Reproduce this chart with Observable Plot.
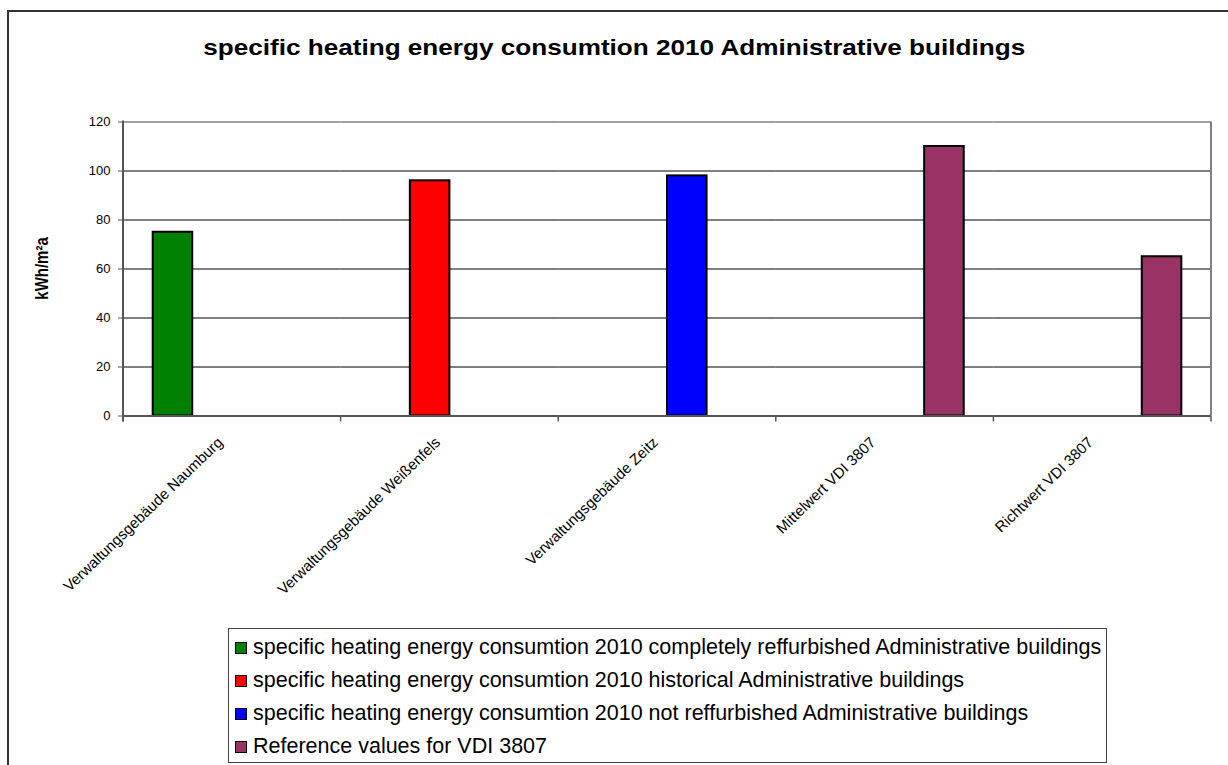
<!DOCTYPE html>
<html>
<head>
<meta charset="utf-8">
<script src="https://cdn.jsdelivr.net/npm/d3@7"></script>
<script src="https://cdn.jsdelivr.net/npm/@observablehq/plot@0.6"></script>
<style>
  html, body { margin: 0; padding: 0; background: #fff; overflow: hidden; }
  body { width: 1228px; height: 765px; position: relative; font-family: "Liberation Sans", Arial, sans-serif; }
  #frame { position: absolute; left: 7px; top: 10px; width: 1400px; height: 900px;
           border-left: 2px solid #333; border-top: 2px solid #333; box-sizing: border-box; }
  #title { position: absolute; left: 0; top: 36px; width: 1228px; text-align: center;
           font-weight: bold; font-size: 22px; line-height: 24px; color: #000; }
  #title span { display: inline-block; transform-origin: 50% 50%; white-space: nowrap; }
  #chart { position: absolute; left: 0; top: 0; }
  #legend { position: absolute; left: 228px; top: 628px; width: 879px; height: 135px;
            box-sizing: border-box; border: 1px solid #444; padding: 2px 0 0 6px; background: #fff; }
  .row { height: 33px; display: flex; align-items: center; font-size: 21.5px; color: #000; white-space: nowrap; }
  .sw { width: 10px; height: 10px; border: 1.5px solid #000; margin-right: 6px; flex: none; }
</style>
</head>
<body>
<div id="frame"></div>
<div id="chart"></div>
<div id="title"><span>specific heating energy consumtion 2010 Administrative buildings</span></div>
<div id="legend"></div>
<script>
// Buildings and reference values on the category axis
const categories = [
  "Verwaltungsgebäude Naumburg",
  "Verwaltungsgebäude Weißenfels",
  "Verwaltungsgebäude Zeitz",
  "Mittelwert VDI 3807",
  "Richtwert VDI 3807"
];
// The four series of the clustered column chart
const series = [
  "specific heating energy consumtion 2010 completely reffurbished Administrative buildings",
  "specific heating energy consumtion 2010 historical Administrative buildings",
  "specific heating energy consumtion 2010 not reffurbished Administrative buildings",
  "Reference values for VDI 3807"
];
const seriesColors = ["#008000", "#ff0000", "#0000ff", "#993366"];
// kWh/m²a per category and the series each value belongs to
const values = [75, 96, 98, 110, 65];
const valueSeries = [0, 1, 2, 3, 3];
const yTicks = [0, 20, 40, 60, 80, 100, 120];
const yLabel = "kWh/m²a";

const rows = categories.map((c, i) => ({category: c, series: series[valueSeries[i]], value: values[i]}));

const font = "'Liberation Sans', Arial, sans-serif";

const chart = Plot.plot({
  width: 1228,
  height: 620,
  marginLeft: 123,
  marginRight: 17,
  marginTop: 121.5,
  marginBottom: 204.5,
  style: {fontFamily: font, fontSize: "13px", color: "#000", background: "transparent", overflow: "visible"},
  fx: {domain: categories, paddingInner: 0, paddingOuter: 0, round: false, label: null},
  x: {domain: series, paddingInner: 0, paddingOuter: 0.75, round: false, axis: null},
  y: {domain: [0, 120], label: null},
  color: {domain: series, range: seriesColors},
  marks: [
    Plot.ruleY(yTicks.filter(t => t > 0 && t < 120), {stroke: "#000", strokeWidth: 1}),
    Plot.ruleY([120], {stroke: "#808080", strokeWidth: 1.5}),
    Plot.barY(rows, {fx: "category", x: "series", y: "value", fill: "series", stroke: "#000", strokeWidth: 2}),
    Plot.ruleY([0], {stroke: "#555", strokeWidth: 2}),
    Plot.axisY({ticks: yTicks, tickSize: 5, tickPadding: 8, label: null, fontSize: 13, stroke: "#555"}),
    Plot.axisFx({anchor: "bottom", tickRotate: -44, tickSize: 0, tickPadding: 14, dx: -12, dy: 10, label: null, fontSize: 15})
  ]
});
document.getElementById("chart").appendChild(chart);

// Axis line, category separators and right border of the plot area
const fx = chart.scale("fx");
const y = chart.scale("y");
const svg = d3.select(chart);
const bw = fx.bandwidth;
const x0 = fx.apply(categories[0]);
const xEnd = fx.apply(categories[categories.length - 1]) + bw;
const bounds = categories.map(c => fx.apply(c)).concat([xEnd]);
const g = svg.append("g");
g.append("line").attr("x1", xEnd).attr("x2", xEnd).attr("y1", y.apply(120)).attr("y2", y.apply(0))
  .attr("stroke", "#808080").attr("stroke-width", 2);
g.append("line").attr("x1", x0).attr("x2", x0).attr("y1", y.apply(120) - 1).attr("y2", y.apply(0) + 6)
  .attr("stroke", "#555").attr("stroke-width", 2);
g.selectAll("line.sep").data(bounds).join("line")
  .attr("x1", d => d).attr("x2", d => d).attr("y1", y.apply(0)).attr("y2", y.apply(0) + 6)
  .attr("stroke", "#555").attr("stroke-width", 1.5);
g.append("text")
  .attr("transform", `translate(48,${(y.apply(0) + y.apply(120)) / 2}) rotate(-90) scale(1,1.2)`)
  .attr("text-anchor", "middle")
  .attr("font-weight", "bold").attr("font-size", 15).attr("font-family", font)
  .text(yLabel);

// Title: stretched horizontally to the chart's title width
const titleSpan = document.querySelector("#title span");
const tw = titleSpan.getBoundingClientRect().width;
titleSpan.style.transform = `scaleX(${822 / tw})`;

// Legend
const legend = d3.select("#legend");
series.forEach((s, i) => {
  const row = legend.append("div").attr("class", "row");
  row.append("div").attr("class", "sw").style("background", chart.scale("color").apply(s));
  row.append("span").text(s);
});
</script>
</body>
</html>
